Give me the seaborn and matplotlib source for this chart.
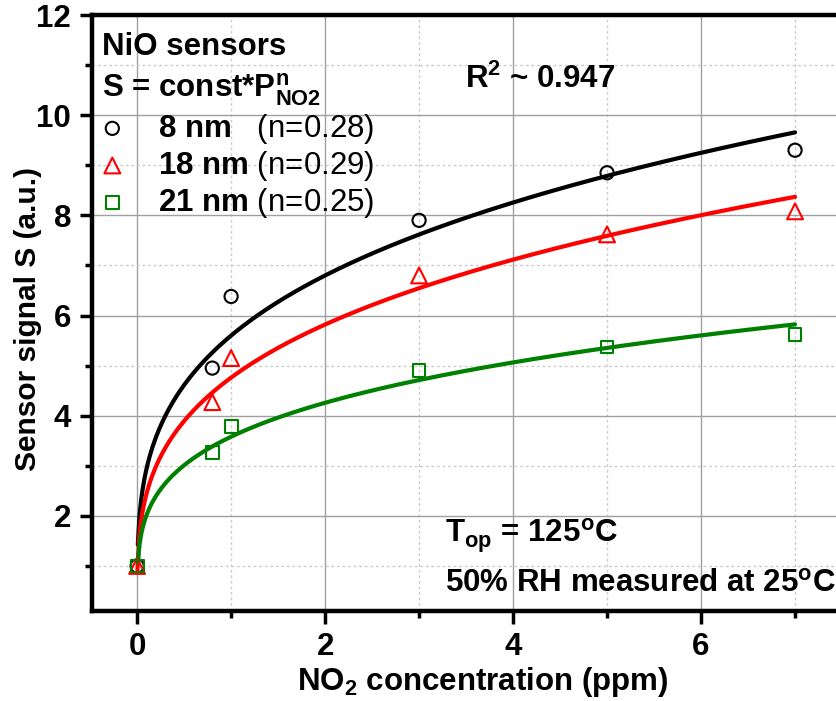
import numpy as np
import pandas as pd
import matplotlib
matplotlib.use("Agg")
import matplotlib.pyplot as plt
from matplotlib.ticker import MultipleLocator
import seaborn as sns

# measured points (NO2 ppm vs sensor signal)
conc = [0, 0.8, 1, 3, 5, 7]
signal_8nm = [1.0, 4.95, 6.38, 7.9, 8.85, 9.3]
signal_18nm = [1.0, 4.27, 5.15, 6.8, 7.62, 8.08]
signal_21nm = [1.0, 3.27, 3.78, 4.9, 5.37, 5.62]

sizes = ["8 nm", "18 nm", "21 nm"]
exponents = [0.28, 0.29, 0.25]
fit_const = [5.6, 4.76, 3.58]
fit_start = [0.0075, 0.0035, 0.008]
colors = ["black", "#ff0000", "#008000"]
markers = ["o", "^", "s"]
marker_sizes = [90, 130, 85]

FS = 22.5

sns.set_style("white")
plt.rcParams["font.family"] = ["Liberation Sans", "DejaVu Sans"]
plt.rcParams["mathtext.fontset"] = "custom"
plt.rcParams["mathtext.rm"] = "Liberation Sans"
plt.rcParams["mathtext.bf"] = "Liberation Sans:bold"
plt.rcParams["mathtext.it"] = "Liberation Sans:italic"
for key in ["text.color", "axes.labelcolor", "xtick.color", "ytick.color"]:
    plt.rcParams[key] = "black"

fig = plt.figure(figsize=(8.36, 7.01), dpi=100)
ax = fig.add_axes([92 / 836, 90 / 701, 782 / 836, 596 / 701])

# power-law fits S = const * P^n
for const, n, x0, c in zip(fit_const, exponents, fit_start, colors):
    xf = np.linspace(x0, 7, 400)
    sns.lineplot(x=xf, y=const * xf ** n, color=c, linewidth=3, ax=ax)

all_signals = [signal_8nm, signal_18nm, signal_21nm]
for lab, sig, c, m, s in zip(sizes, all_signals, colors, markers, marker_sizes):
    df = pd.DataFrame({"conc": conc, "signal": sig})
    sns.scatterplot(data=df, x="conc", y="signal", marker=m, s=s, color=c,
                    facecolors="none", edgecolor=c, linewidth=1.5,
                    label=lab, ax=ax, zorder=5)

ax.set_xlim(-0.48, 7.84)
ax.set_ylim(0.1, 12)
ax.xaxis.set_major_locator(MultipleLocator(2))
ax.xaxis.set_minor_locator(MultipleLocator(1))
ax.yaxis.set_major_locator(MultipleLocator(2))
ax.yaxis.set_minor_locator(MultipleLocator(1))
ax.set_yticks([2, 4, 6, 8, 10, 12])

ax.set_axisbelow(True)
ax.grid(which="major", color="#a0a0a0", linewidth=1, linestyle="-")
ax.grid(which="minor", color="#cccccc", linewidth=1, linestyle=(0, (2, 2)))

for side in ["left", "bottom", "top"]:
    ax.spines[side].set_linewidth(3.2)
    ax.spines[side].set_color("black")
ax.spines["right"].set_visible(False)

ax.tick_params(which="major", direction="out", length=9, width=2.5,
               labelsize=FS, pad=6, left=True, bottom=True)
ax.tick_params(which="minor", direction="out", length=5, width=2.5,
               left=True, bottom=True)
for t in ax.get_xticklabels() + ax.get_yticklabels():
    t.set_fontweight("bold")

ax.set_xlabel(r"NO$_{\mathbf{2}}$ concentration (ppm)", fontsize=FS, fontweight="bold")
ax.set_ylabel("Sensor signal S (a.u.)", fontsize=21.5, fontweight="bold")
ax.xaxis.set_label_coords(0.5, -0.09)
ax.yaxis.set_label_coords(-0.064, 0.49)

# legend entries: bold size + regular exponent
labels = [r"$\mathbf{8\ nm}$   (n=0.28)", r"$\mathbf{18\ nm}$ (n=0.29)",
          r"$\mathbf{21\ nm}$ (n=0.25)"]
handles, _ = ax.get_legend_handles_labels()
ax.legend(handles=handles, labels=labels, loc="upper left",
          bbox_to_anchor=(0.006, 0.838), frameon=False, fontsize=FS,
          handlelength=1.0, handletextpad=0.95, labelspacing=0.1,
          borderpad=0, borderaxespad=0)

ax.text(0.0125, 0.933, "NiO sensors", transform=ax.transAxes,
        fontsize=FS, fontweight="bold", va="baseline")
ax.text(0.0125, 0.861, r"S = const*$\mathbf{P^{n}_{NO2}}$", transform=ax.transAxes,
        fontsize=FS, fontweight="bold", va="baseline")
ax.text(0.477, 0.878, r"R$^{\mathbf{2}}$ ~ 0.947", transform=ax.transAxes,
        fontsize=FS, fontweight="bold", va="baseline")
ax.text(0.451, 0.114, r"T$_{\mathbf{op}}$ = 125$^{\mathbf{o}}$C", transform=ax.transAxes,
        fontsize=FS, fontweight="bold", va="baseline")
ax.text(0.451, 0.032, r"50% RH measured at 25$^{\mathbf{o}}$C", transform=ax.transAxes,
        fontsize=FS, fontweight="bold", va="baseline")

fig.savefig("out.png", dpi=100)
